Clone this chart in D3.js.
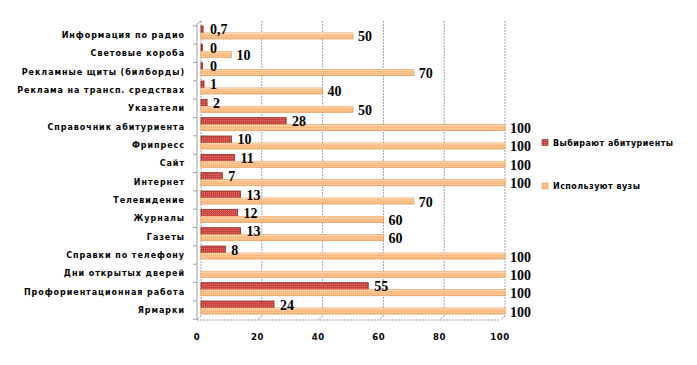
<!DOCTYPE html>
<html><head><meta charset="utf-8">
<script src="https://cdn.jsdelivr.net/npm/d3@7"></script>
<style>body{margin:0;background:#fff}svg{display:block}</style>
</head><body>
<script>
const categories = ["Информация по радио","Световые короба","Рекламные щиты (билборды)","Реклама на трансп. средствах","Указатели","Справочник абитуриента","Фрипресс","Сайт","Интернет","Телевидение","Журналы","Газеты","Справки по телефону","Дни открытых дверей","Профориентационная работа","Ярмарки"];
const applicants = [0.7,0,0,1,2,28,10,11,7,13,12,13,8,null,55,24];
const universities = [50,10,70,40,50,100,100,100,100,70,60,60,100,100,100,100];
const applicantLabels = ["0,7","0","0","1","2","28","10","11","7","13","12","13","8",null,"55","24"];
const xTicks = [0,20,40,60,80,100];
const seriesNames = ["Выбирают абитуриенты","Используют вузы"];

const W=697,H=365;
const svg=d3.select("body").append("svg").attr("width",W).attr("height",H);
const defs=svg.append("defs");
function pat(id,bg,dot){
  const p=defs.append("pattern").attr("id",id).attr("patternUnits","userSpaceOnUse").attr("width",2).attr("height",2);
  p.append("rect").attr("width",2).attr("height",2).attr("fill",bg);
  p.append("rect").attr("width",1).attr("height",1).attr("fill",dot);
}
pat("pr","#c9443f","#e0706a");
pat("po","#fbb97e","#fdd3a8");

const x=d3.scaleLinear().domain([0,100]).range([201,505]);
const xf=d3.scaleLinear().domain([0,100]).range([197,500]);
const y=d3.scaleBand().domain(categories).range([25.8,319.2]).padding(0);
const gridTop=21, floorBack=316, floorFront=320;

const g=svg.append("g");
xTicks.forEach(t=>{
  g.append("line").attr("x1",x(t)).attr("x2",x(t)).attr("y1",gridTop).attr("y2",floorBack)
   .attr("stroke","#a0a0a0").attr("stroke-dasharray","2,1");
  g.append("line").attr("x1",x(t)).attr("x2",xf(t)).attr("y1",floorBack).attr("y2",floorFront)
   .attr("stroke","#a0a0a0").attr("stroke-dasharray","2,1");
});
g.append("line").attr("x1",xf(0)).attr("x2",xf(100)).attr("y1",floorFront).attr("y2",floorFront)
 .attr("stroke","#a0a0a0").attr("stroke-dasharray","2,1");
g.append("line").attr("x1",197).attr("x2",197).attr("y1",gridTop+3).attr("y2",floorFront)
 .attr("stroke","#a0a0a0");
g.append("line").attr("x1",197).attr("x2",201).attr("y1",gridTop+3).attr("y2",gridTop)
 .attr("stroke","#a0a0a0");
const bounds=d3.range(categories.length+1).map(i=>y.range()[0]+i*y.step());
bounds.forEach(b=>{
  g.append("line").attr("x1",193).attr("x2",197).attr("y1",b).attr("y2",b).attr("stroke","#a0a0a0");
});
svg.append("g").selectAll("text").data(xTicks).join("text")
 .attr("x",d=>xf(d)).attr("y",340).attr("text-anchor","middle")
 .attr("font-family","DejaVu Sans").attr("font-weight","bold").attr("font-size",8.5)
 .attr("letter-spacing",0.6).text(d=>d);

svg.append("g").selectAll("text").data(categories).join("text")
 .attr("x",185).attr("y",d=>y(d)+y.bandwidth()/2+3).attr("text-anchor","end")
 .attr("font-family","DejaVu Sans").attr("font-weight","bold").attr("font-size",8)
 .attr("letter-spacing",0.95).text(d=>d);

const bars=svg.append("g");
categories.forEach((c,i)=>{
  const cy=y(c)+y.bandwidth()/2;
  const u=universities[i];
  const a=applicants[i];
  if(a!==null){
    const w=Math.max(x(a)-x(0),1.5);
    bars.append("rect").attr("x",x(0)).attr("y",cy-9).attr("width",w).attr("height",7)
      .attr("fill","url(#pr)").attr("stroke","#8c2a28").attr("stroke-width",0.8);
  }
  bars.append("rect").attr("x",x(0)).attr("y",cy-2).attr("width",x(u)-x(0)).attr("height",6)
    .attr("fill","url(#po)").attr("stroke","#e99c5e").attr("stroke-width",0.8);
  bars.append("line").attr("x1",x(0)).attr("x2",x(u)).attr("y1",cy-1.3).attr("y2",cy-1.3)
    .attr("stroke","#fddcb8").attr("stroke-width",1);
});

const lab=svg.append("g").attr("font-family","Liberation Serif").attr("font-weight","bold").attr("font-size",14).attr("fill","#000");
categories.forEach((c,i)=>{
  const cy=y(c)+y.bandwidth()/2;
  if(applicants[i]!==null){
    lab.append("text").attr("x",x(Math.max(applicants[i],1))+6).attr("y",cy-0.5).text(applicantLabels[i]);
  }
  lab.append("text").attr("x",x(universities[i])+5).attr("y",cy+6.5).text(universities[i]);
});

const leg=svg.append("g");
const lfill=["url(#pr)","url(#po)"], lstroke=["#8c2a28","#e99c5e"], ly=[142.5,186];
seriesNames.forEach((s,i)=>{
  leg.append("rect").attr("x",542).attr("y",ly[i]-3).attr("width",6).attr("height",6)
   .attr("fill",lfill[i]).attr("stroke",lstroke[i]).attr("stroke-width",0.6);
  leg.append("text").attr("x",553).attr("y",ly[i]+3).attr("font-family","DejaVu Sans")
   .attr("font-weight","bold").attr("font-size",8).attr("letter-spacing",0.45).text(s);
});
</script>
</body></html>
